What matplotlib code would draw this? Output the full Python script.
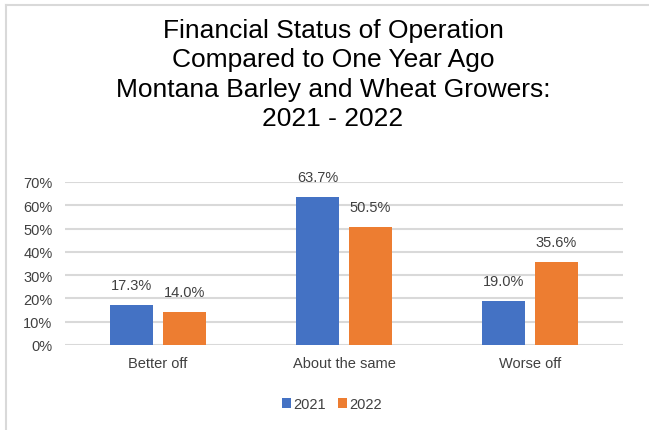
import matplotlib
matplotlib.use("Agg")
import matplotlib.pyplot as plt
from matplotlib.lines import Line2D
import numpy as np

plt.rcParams['font.family'] = ['Liberation Sans', 'DejaVu Sans']

categories = ["Better off", "About the same", "Worse off"]
series_names = ["2021", "2022"]
values_2021 = [17.3, 63.7, 19.0]
values_2022 = [14.0, 50.5, 35.6]
y_ticks = [0, 10, 20, 30, 40, 50, 60, 70]
title = "Financial Status of Operation\nCompared to One Year Ago\nMontana Barley and Wheat Growers:\n2021 - 2022"

colors = ["#4472C4", "#ED7D31"]
text_color = "#404040"
fs = 10.5

W, H = 649, 431
fig = plt.figure(figsize=(W / 100, H / 100), dpi=100)
ax = fig.add_axes([65 / W, 1 - 346 / H, (623 - 65) / W, (346 - 183) / H])

x = np.arange(len(categories))
bw = 0.226
gap = 0.059
off = (bw + gap) / 2
for vals, c, name, sgn in [(values_2021, colors[0], series_names[0], -1),
                           (values_2022, colors[1], series_names[1], 1)]:
    bars = ax.bar(x + sgn * off, vals, width=bw, color=c, label=name, zorder=3)
    for b, v in zip(bars, vals):
        ax.annotate(f"{v:.1f}%", (b.get_x() + b.get_width() / 2, v),
                    xytext=(0, 11.5), textcoords="offset points",
                    ha="center", va="baseline", fontsize=fs, color=text_color)

ax.set_xlim(-0.5, len(categories) - 0.5)
ax.set_ylim(0, 70)
ax.set_yticks(y_ticks)
ax.set_yticklabels([f"{t}%" for t in y_ticks], fontsize=fs, color=text_color)
ax.set_xticks(x)
ax.set_xticklabels(categories, fontsize=fs, color=text_color)
ax.tick_params(axis="both", length=0)
ax.tick_params(axis="y", pad=9)
ax.tick_params(axis="x", pad=8)
ax.grid(axis="y", color="#d9d9d9", linewidth=1.5, zorder=0)
for s in ax.spines.values():
    s.set_visible(False)

fig.text(333 / W, 1 - 19 / H, title, ha="center", va="top", fontsize=19,
         color="#000000", linespacing=1.28, multialignment="center")

leg = fig.legend(loc="center", bbox_to_anchor=(332 / W, 1 - 405 / H), ncol=2,
                 frameon=False, fontsize=fs, handlelength=0.65, handleheight=0.65,
                 handletextpad=0.15, columnspacing=0.8)
for t in leg.get_texts():
    t.set_color(text_color)

# chart frame edges
fig.add_artist(Line2D([6 / W, 6 / W], [0, 1 - 6 / H], color="#d9d9d9", lw=1.5))
fig.add_artist(Line2D([6 / W, 1], [1 - 6 / H, 1 - 6 / H], color="#d9d9d9", lw=1.5))

fig.savefig("out.png", dpi=100)
